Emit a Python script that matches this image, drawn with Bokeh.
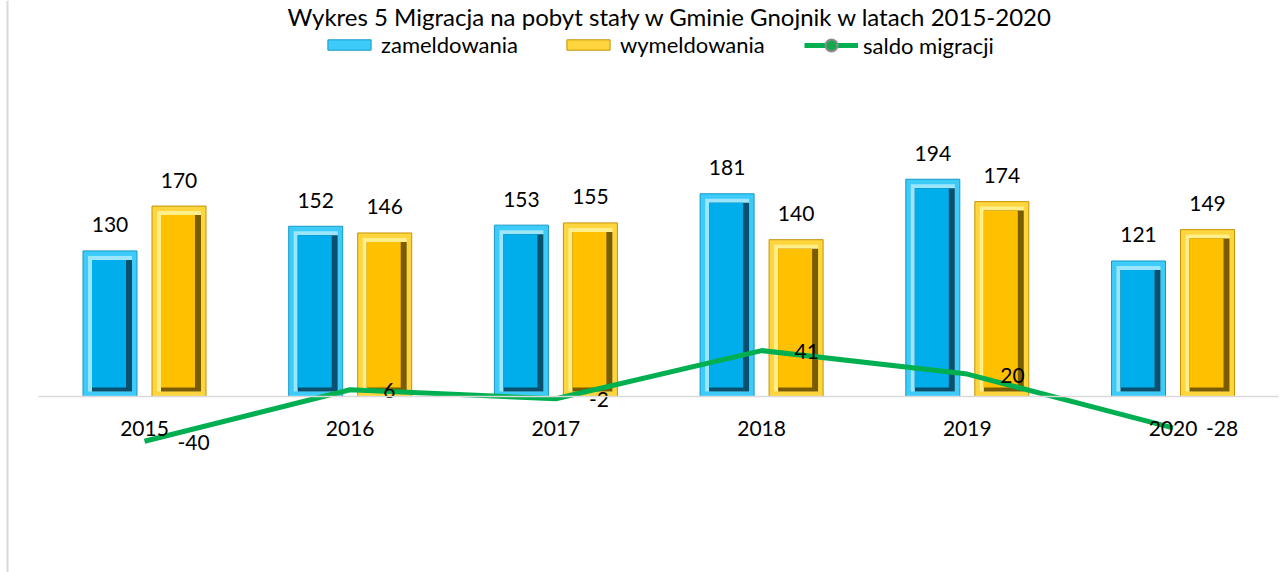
from bokeh.plotting import figure
from bokeh.models import (Range1d, ColumnDataSource, Legend, LegendItem, Label, Span,
                          FixedTicker)
from bokeh.transform import dodge
from bokeh.core.properties import value
from bokeh.embed import file_html
from bokeh.resources import INLINE

# ---------------- data ----------------
years = ["2015", "2016", "2017", "2018", "2019", "2020"]
zameldowania = [130, 152, 153, 181, 194, 121]
wymeldowania = [170, 146, 155, 140, 174, 149]
saldo = [-40, 6, -2, 41, 20, -28]
series_names = ["zameldowania", "wymeldowania", "saldo migracji"]
title_text = "Wykres 5 Migracja na pobyt stały w Gminie Gnojnik w latach 2015-2020"

# ---------------- geometry / style ----------------
W, H = 1288, 572
PXX = 205.7          # pixels per category
PXY = 1.12           # pixels per unit
x_start = -144 / PXX
x_end = x_start + W / PXX
y_top = 396 / PXY
y_bottom = y_top - H / PXY

OFF = 34.5 / PXX     # dodge of each bar from category centre
BW = 54 / PXX        # bar width
FONT = "Lato"

idx = list(range(len(years)))

src = ColumnDataSource(dict(
    x=idx,
    zam=zameldowania,
    wym=wymeldowania,
    saldo=saldo,
    zam_t5=[v - 5 / PXY for v in zameldowania],
    wym_t5=[v - 5 / PXY for v in wymeldowania],
    zam_t9=[v - 9 / PXY for v in zameldowania],
    wym_t9=[v - 9 / PXY for v in wymeldowania],
    zam_lbl=[str(v) for v in zameldowania],
    wym_lbl=[str(v) for v in wymeldowania],
    saldo_lbl=[str(v) for v in saldo],
))

p = figure(width=W, height=H, x_range=Range1d(x_start, x_end),
           y_range=Range1d(y_bottom, y_top), output_backend="svg",
           toolbar_location=None, min_border=0, y_axis_location=None,
           background_fill_color="white", border_fill_color="white")
p.outline_line_color = None
p.grid.visible = False

def bevel_bars(off, top, t5, t9, rim, rim_line, hi, sh, face):
    outer = p.vbar(x=dodge("x", off), width=BW, top=top, bottom=0, source=src,
                   fill_color=rim, line_color=rim_line, line_width=1)
    p.vbar(x=dodge("x", off), width=BW - 10 / PXX, top=t5, bottom=5 / PXY,
           source=src, fill_color=hi, line_color=None)
    p.vbar(x=dodge("x", off + 2 / PXX), width=BW - 14 / PXX, top=t9,
           bottom=5 / PXY, source=src, fill_color=sh, line_color=None)
    p.vbar(x=dodge("x", off - 1 / PXX), width=BW - 20 / PXX, top=t9, bottom=9 / PXY,
           source=src, fill_color=face, line_color=None)
    return outer

r_zam = bevel_bars(-OFF, "zam", "zam_t5", "zam_t9",
                   "#3DCBFA", "#1699C9", "#9BE6FD", "#08506D", "#00AEEC")
r_wym = bevel_bars(OFF, "wym", "wym_t5", "wym_t9",
                   "#FFD53D", "#C49205", "#FFEE8C", "#7A5C00", "#FFC000")

# x axis through zero
ax = p.xaxis[0]
ax.fixed_location = 0
ax.ticker = FixedTicker(ticks=idx)
ax.major_label_overrides = {i: y for i, y in zip(idx, years)}
ax.bounds = (-0.5 - 3 / PXX, len(years) - 0.5 + 3 / PXX)
ax.axis_line_color = "#D9D9D9"
ax.axis_line_width = 1.5
ax.major_tick_line_color = None
ax.minor_tick_line_color = None
ax.major_tick_out = 0
ax.major_label_standoff = 24
ax.major_label_text_font = FONT
ax.major_label_text_font_size = "21px"
ax.major_label_text_color = "black"

# saldo line
r_line = p.line("x", "saldo", source=src, line_color="#00B050", line_width=5)
r_mark = p.scatter("x", "saldo", source=src, marker="circle", size=0,
                   fill_color="#14A84E", line_color="#8C8C8C", line_width=2)

# data labels
lbl_kw = dict(text_font=value(FONT), text_font_size="21px", text_color="black")
p.text(x=dodge("x", -OFF), y="zam", text="zam_lbl", source=src, text_align="center",
       text_baseline="alphabetic", y_offset=-26, **lbl_kw)
p.text(x=dodge("x", OFF), y="wym", text="wym_lbl", source=src, text_align="center",
       text_baseline="alphabetic", y_offset=-26, **lbl_kw)
p.text(x="x", y="saldo", text="saldo_lbl", source=src, text_align="left",
       text_baseline="alphabetic", x_offset=33, y_offset=1, **lbl_kw)

# legends
def mk_legend(label, renderers, x, y, gh):
    lg = Legend(items=[LegendItem(label=label, renderers=renderers)], location=(x, y),
                orientation="horizontal", glyph_width=54, glyph_height=gh,
                label_standoff=5, padding=0, margin=0, border_line_color=None,
                background_fill_alpha=0, label_text_font=FONT,
                label_text_font_size="22px", label_text_color="black")
    p.add_layout(lg)

mk_legend(series_names[0], [r_zam], 322, 514, 13)
mk_legend(series_names[1], [r_wym], 561, 514, 13)
mk_legend(series_names[2], [r_line, r_mark], 804, 512, 30)

# left chart border
p.add_layout(Span(location=x_start + 7 / PXX, dimension="height", line_color="#D9D9D9",
                  line_width=2))

# title
p.add_layout(Label(x=670, y=H - 1, x_units="screen", y_units="screen", text=title_text,
                   text_align="center", text_baseline="top", text_font=FONT,
                   text_font_size="24px", text_color="black"))

open("out.html", "w").write(file_html(p, INLINE))
